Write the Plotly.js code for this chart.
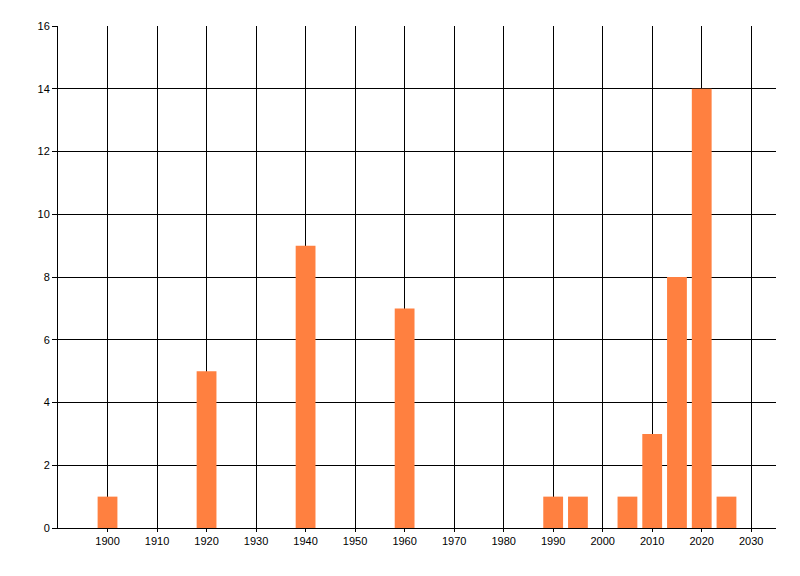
<!DOCTYPE html>
<html>
<head>
<meta charset="utf-8">
<script src="https://cdn.plot.ly/plotly-3.0.1.min.js"></script>
<style>
  html, body { margin: 0; padding: 0; background: #ffffff; }
  #chart { width: 800px; height: 576px; }
</style>
</head>
<body>
<div id="chart"></div>
<script>
(function () {
    'use strict';

    // Year buckets and counts
    const years = [1900, 1920, 1940, 1960, 1990, 1995, 2005, 2010, 2015, 2020, 2025];
    const counts = [1, 5, 9, 7, 1, 1, 1, 3, 8, 14, 1];
    const xTicks = [1900, 1910, 1920, 1930, 1940, 1950, 1960, 1970, 1980, 1990, 2000, 2010, 2020, 2030];
    const yTicks = [0, 2, 4, 6, 8, 10, 12, 14, 16];

    const COLORS = {
        bar: '#FF8040',
        grid: '#000000',
        text: '#000000'
    };

    const trace = {
        x: years,
        y: counts,
        type: 'bar',
        width: 4,
        marker: { color: COLORS.bar, line: { width: 0 } },
        hoverinfo: 'x+y'
    };

    const layout = {
        width: 800,
        height: 576,
        paper_bgcolor: '#ffffff',
        plot_bgcolor: '#ffffff',
        font: { family: '"Liberation Sans", Arial, sans-serif', size: 11, color: COLORS.text },
        margin: { t: 26, r: 24, b: 48, l: 58 },
        showlegend: false,
        xaxis: {
            range: [1890, 2035],
            tickvals: xTicks,
            ticktext: xTicks.map(String),
            showgrid: true,
            gridcolor: COLORS.grid,
            gridwidth: 1,
            zeroline: false,
            showline: true,
            linecolor: COLORS.grid,
            linewidth: 1,
            ticks: 'outside',
            ticklen: 3,
            tickcolor: COLORS.grid,
            tickfont: { size: 11, color: COLORS.text }
        },
        yaxis: {
            range: [0, 16],
            tickvals: yTicks,
            ticktext: yTicks.map(String),
            showgrid: true,
            gridcolor: COLORS.grid,
            gridwidth: 1,
            zeroline: false,
            showline: true,
            linecolor: COLORS.grid,
            linewidth: 1,
            ticks: 'outside',
            ticklen: 5,
            tickcolor: COLORS.grid,
            tickfont: { size: 11, color: COLORS.text }
        }
    };

    Plotly.newPlot('chart', [trace], layout, { displayModeBar: false, staticPlot: true });
})();
</script>
</body>
</html>
